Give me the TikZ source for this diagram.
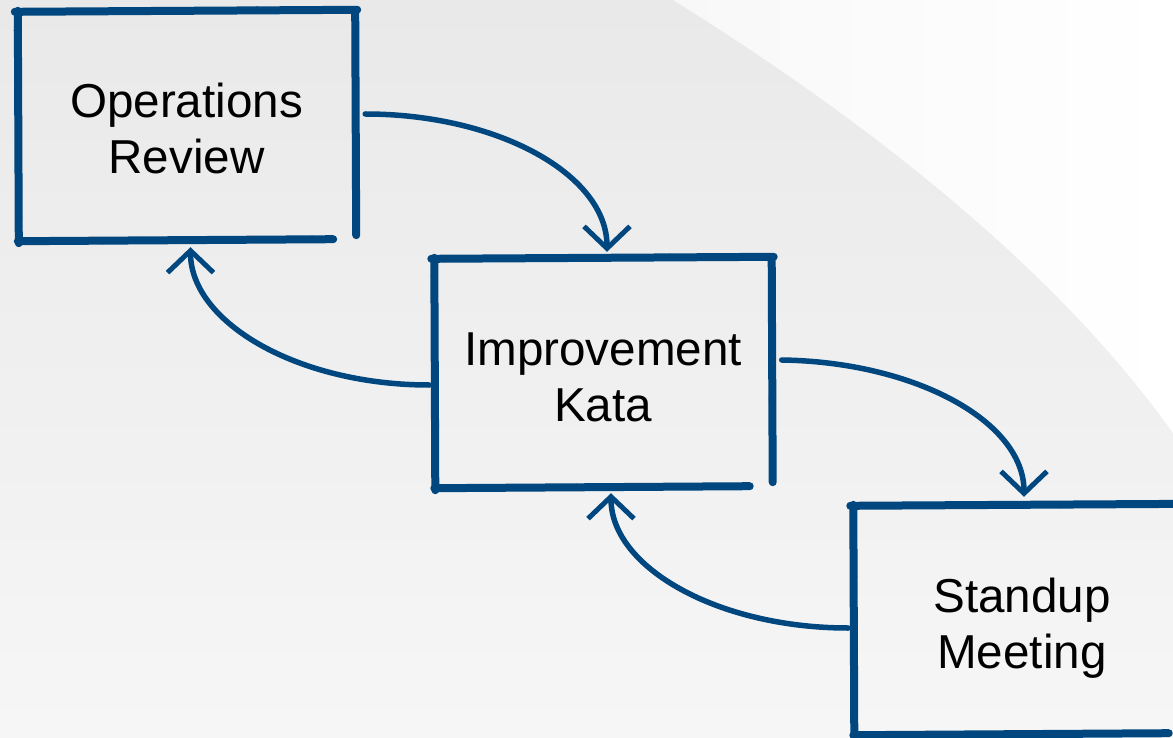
\documentclass[tikz,border=0pt]{standalone}
\usepackage{fontspec}
\setmainfont{Liberation Sans}
\usetikzlibrary{arrows.meta,calc,decorations.pathmorphing}

\definecolor{kblue}{RGB}{0,71,128}
\definecolor{bgtop}{RGB}{233,233,233}
\definecolor{bgbot}{RGB}{246,246,246}
\definecolor{hilite}{RGB}{248,248,248}

\tikzset{
  box/.style={minimum width=337pt, minimum height=230pt, inner sep=0pt, draw=none},
  lbl/.style={font=\fontsize{47.6}{56}\selectfont, anchor=base, inner sep=0pt, text=black},
  sidestroke/.style={draw=kblue, line width=8pt, line cap=round},
  roughstroke/.style={draw=kblue, line width=3pt, line cap=round,
    decorate, decoration={random steps, segment length=4pt, amplitude=2pt}},
  flow/.style={draw=kblue, line width=5.5pt, line cap=round,
    -{Straight Barb[length=22pt, width=46pt, line width=5pt]}},
}

% four hand-drawn sides of a box, corners slightly off
\newcommand\sketchsides[1]{%
  ($(#1.north west)+(-3,1)$) -- ($(#1.north east)+(2,-1)$)
  ($(#1.north west)+(0,0)$) -- ($(#1.south west)+(1,2)$)
  ($(#1.north east)+(0,0)$) -- ($(#1.south east)+(1,-6)$)
  ($(#1.south west)+(0,0)$) -- ($(#1.south east)+(-22,-2)$)%
}
\newcommand\sketchbox[1]{%
  \draw[sidestroke] \sketchsides{#1};
  \draw[roughstroke] \sketchsides{#1};
}

\begin{document}
\begin{tikzpicture}[x=1pt, y=-1pt]
  \pgfmathsetseed{11}
  \useasboundingbox (0,0) rectangle (1173,738);
  \begin{scope}
    \clip (0,0) rectangle (1173,738);

    % backdrop with the lighter sweep at the upper right
    \shade[top color=bgtop, bottom color=bgbot] (0,0) rectangle (1173,738);
    \shade[left color=hilite, right color=white]
      (673,0) .. controls (850,110) and (1050,260) .. (1173,433)
      -- (1173,0) -- cycle;

    % boxes
    \node[box] (b1) at (186.5,126) {};
    \node[box] (b2) at (603,373) {};
    \node[box] (b3) at (1022,620) {};

    \sketchbox{b1}
    \sketchbox{b2}
    \sketchbox{b3}

    % labels
    \node[lbl] (t1a) at ($(b1.center)+(0,-8)$) {Operations};
    \node[lbl] (t1b) at ($(b1.center)+(0,48)$) {Review};
    \node[lbl] (t2a) at ($(b2.center)+(0,-8)$) {Improvement};
    \node[lbl] (t2b) at ($(b2.center)+(0,48)$) {Kata};
    \node[lbl] (t3a) at ($(b3.center)+(0,-8)$) {Standup};
    \node[lbl] (t3b) at ($(b3.center)+(0,48)$) {Meeting};

    % connectors
    \draw[flow] ($(b1.east)+(10,-12)$)
      .. controls +(133,0) and +(0,-77) .. ($(b2.north)+(4,-6)$);
    \draw[flow] ($(b2.west)+(-5,12)$)
      .. controls +(-132,0) and +(0,75) .. ($(b1.south)+(4,6)$);
    \draw[flow] ($(b2.east)+(10,-13)$)
      .. controls +(134,2) and +(0,-75) .. ($(b3.north)+(2,-8)$);
    \draw[flow] ($(b3.west)+(-5,8)$)
      .. controls +(-131,0) and +(0,74) .. ($(b2.south)+(8,5)$);
  \end{scope}
\end{tikzpicture}
\end{document}
